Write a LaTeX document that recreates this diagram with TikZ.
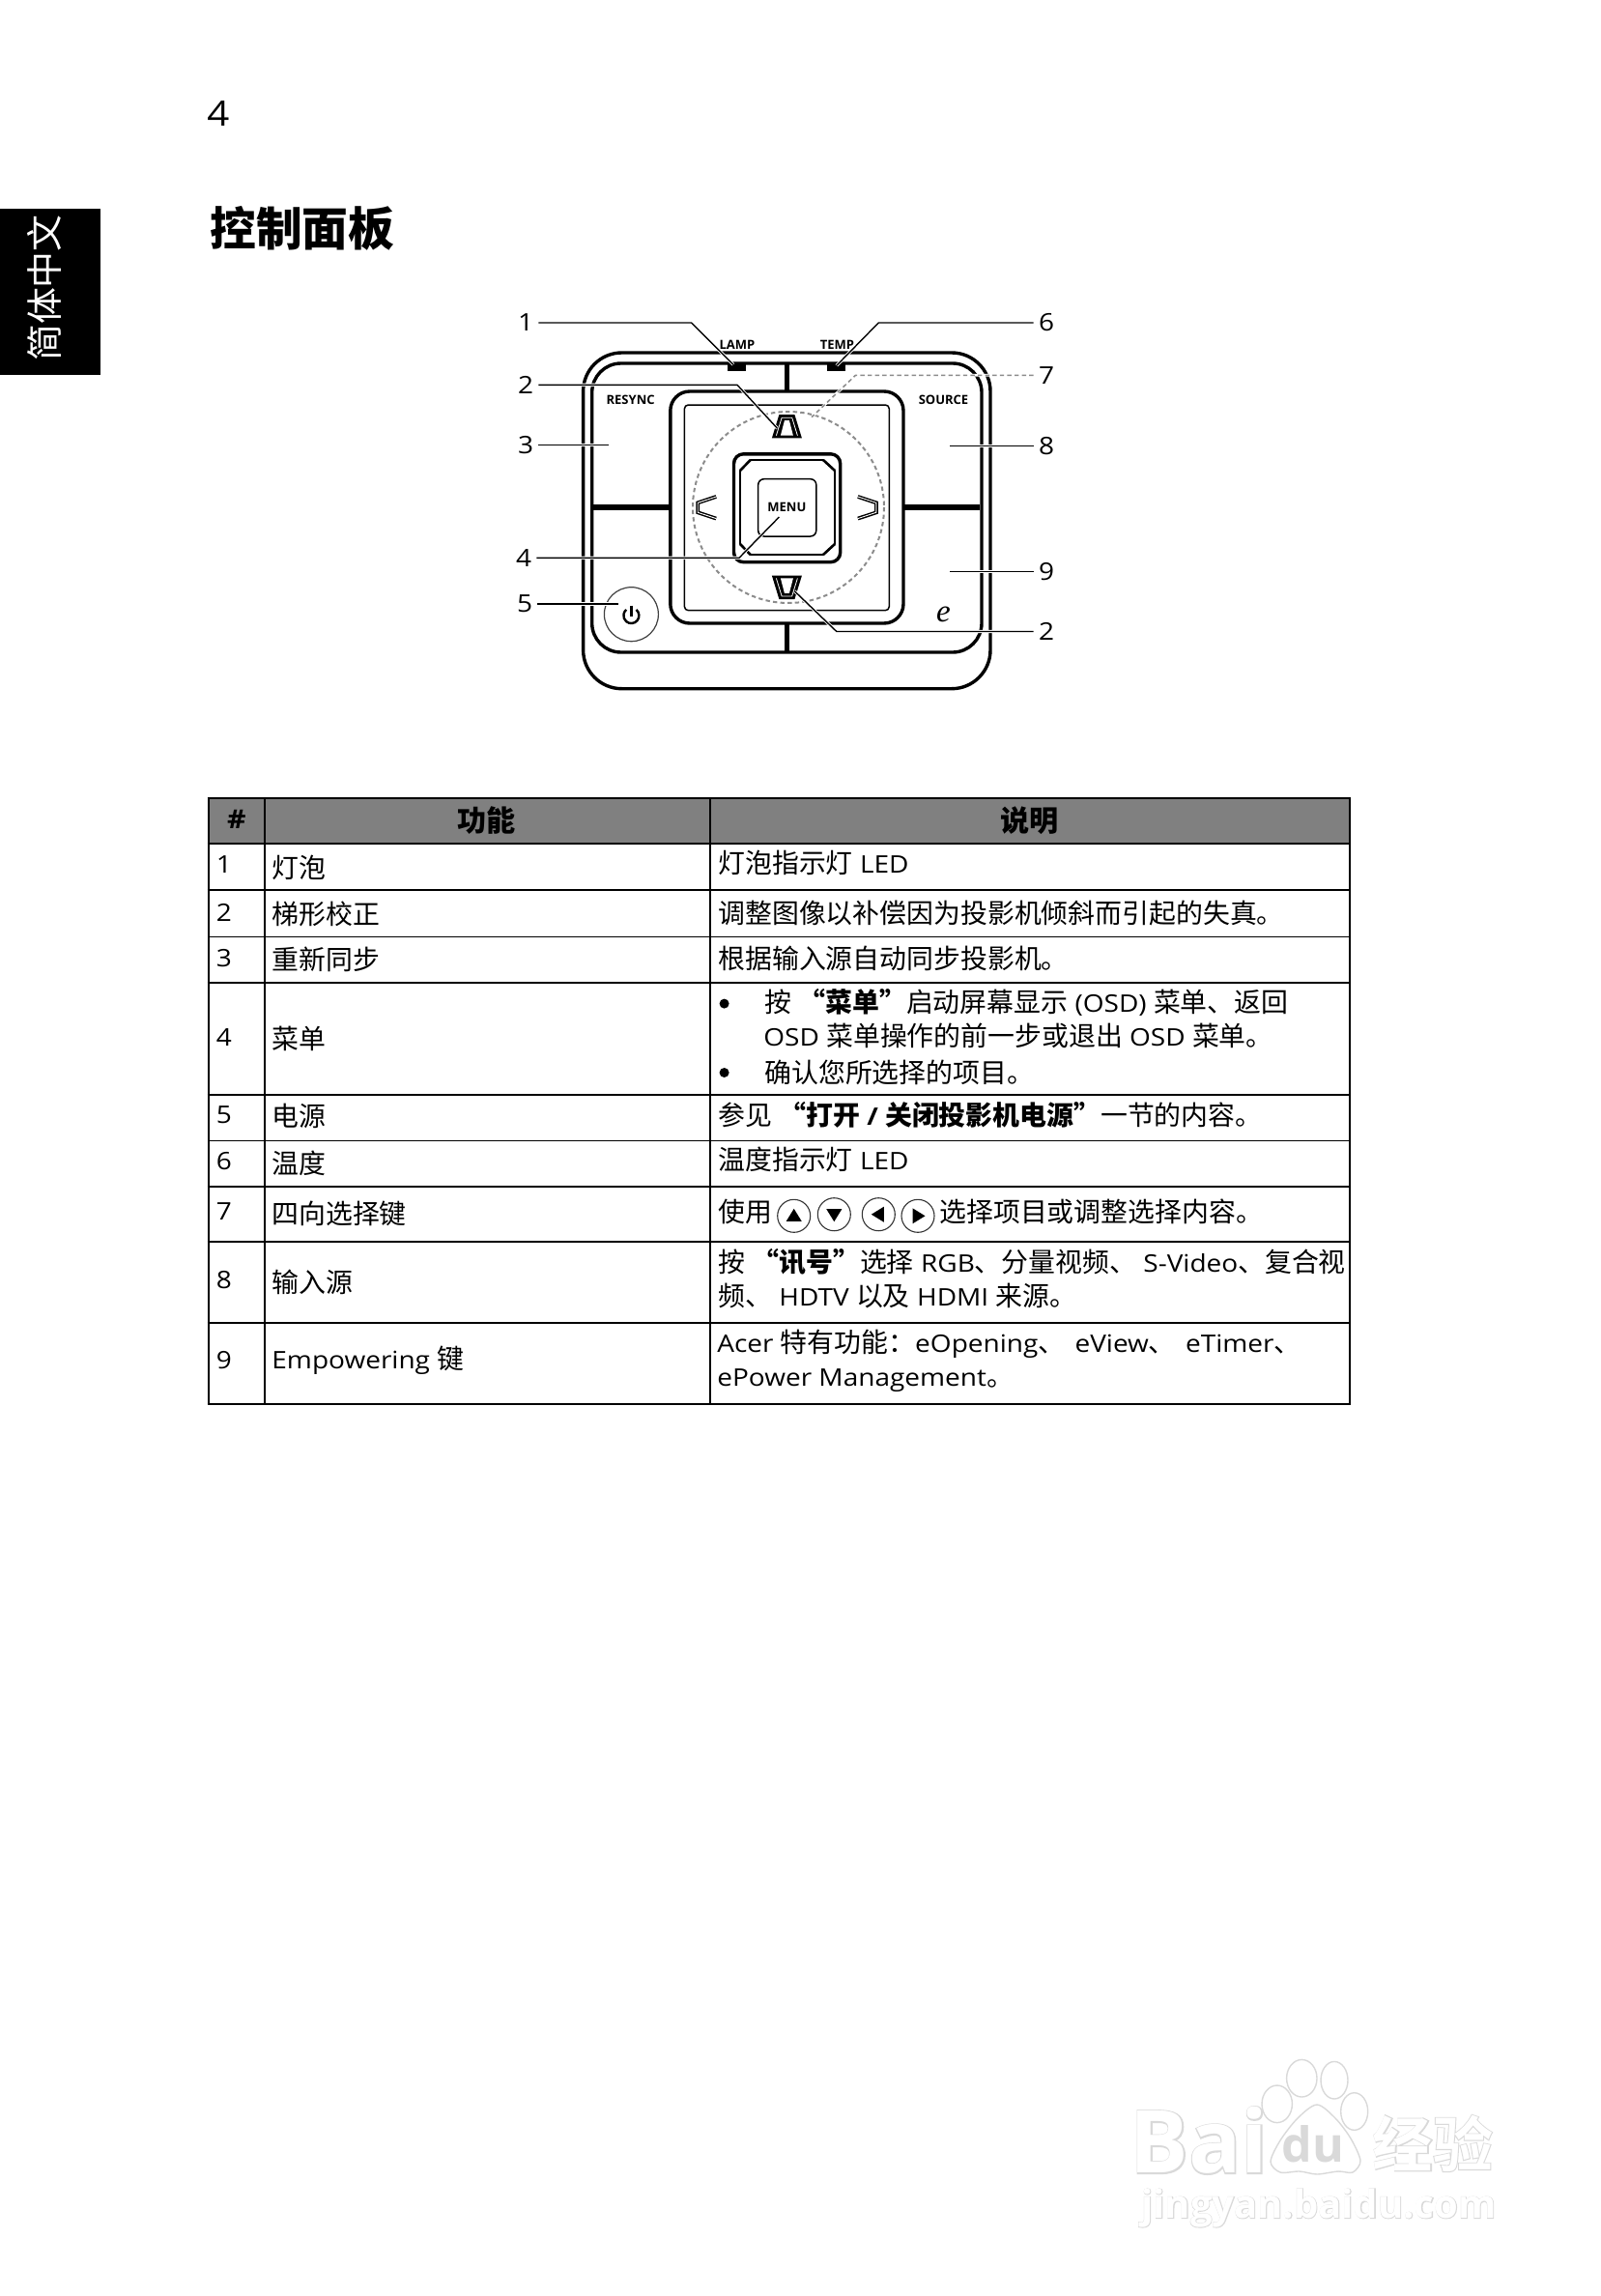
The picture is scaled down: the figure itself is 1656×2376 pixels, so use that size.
\documentclass[tikz,border=0pt]{standalone}
\usepackage{fontspec}
\setmainfont[FakeStretch=1.12]{Open Sans}
\newfontfamily\keyfont{Open Sans Bold}
\newfontfamily\cjk[Scale=1.115]{Noto Sans CJK SC}
\newfontfamily\efont{Liberation Serif}
\newfontfamily\wmfont[FakeBold=3]{Open Sans Bold}
\newfontfamily\wmplain{Open Sans Bold}
\newfontfamily\wmcjk[Scale=1.096,FakeBold=3]{Noto Sans CJK SC Bold}
\newfontfamily\wmcjkplain[Scale=1.096]{Noto Sans CJK SC Bold}
\newcommand{\zh}[1]{{\cjk #1}}
\newcommand{\zb}[1]{{\cjk\bfseries #1}}
\definecolor{headgray}{gray}{0.5}
\definecolor{dashgray}{gray}{0.55}
\definecolor{markgray}{gray}{0.85}

\begin{document}
\begin{tikzpicture}[x=0.5pt,y=-0.5pt,
		body/.style={font=\fontsize{12.5pt}{15pt}\selectfont},
		rowtext/.style={body, anchor=base west, inner sep=0pt},
		numtext/.style={body, anchor=base, inner sep=0pt},
		headtext/.style={font=\fontsize{13.5pt}{16pt}\selectfont\bfseries, inner sep=0pt},
		keytext/.style={font=\keyfont\fontsize{6.5pt}{7pt}\selectfont, inner sep=0pt},
		calloutnum/.style={body, inner sep=2.5pt},
		panelline/.style={line width=1.7pt, rounded corners=#1},
		thinline/.style={line width=0.75pt, rounded corners=#1},
		leader/.style={line width=0.7pt, preaction={draw=white, line width=1.6pt}},
		dashring/.style={draw=dashgray, line width=1pt, dash pattern=on 2.2pt off 1.6pt},
		dotmark/.style={circle, fill=black, inner sep=0pt, minimum size=5pt},
		iconring/.style={circle, draw=black!80, line width=0.55pt, inner sep=0pt, minimum size=17pt},
		markpart/.style={draw=markgray, fill=white, line width=0.7pt}]
	\useasboundingbox (0,0) rectangle (1656,2376);

	\fill[black] (0,216) rectangle (104,388);
	\node[rotate=90, text=white, inner sep=0pt, font=\fontsize{17pt}{20pt}\selectfont] (tabtext) at (46,298) {\zh{简体中文}};
	\node[anchor=base, inner sep=0pt, font=\fontsize{18pt}{20pt}\selectfont] (pagenum) at (226,131) {4};
	\node[anchor=base west, inner sep=0pt, font=\fontsize{21.4pt}{25pt}\selectfont] (title) at (217,255) {\zb{控制面板}};

	\draw[panelline=20pt] (603.6,365) rectangle (1025,712.7);
	\draw[panelline=15pt] (612.7,376) rectangle (1016,675);
	\draw[panelline=10pt] (693.8,405) rectangle (935,645);
	\draw[thinline=2pt] (708.4,419) rectangle (920.3,631.7);
	\draw[line width=2.4pt] (814.4,376) -- (814.4,405) (814.4,645) -- (814.4,675);
	\draw[line width=2.6pt] (614,525) -- (693.8,525) (935,525) -- (1014,525);
	\fill[black] (753,377.3) rectangle (772,384);
	\fill[black] (855.9,377.3) rectangle (874.8,384);

	\draw[panelline=5pt] (759.5,469.8) rectangle (869.7,581.7);
	\draw[line width=0.85pt] (776.7,476) -- (852,476) -- (864,487) -- (864,563) -- (852,574) -- (776.7,574) -- (766,563) -- (766,487) -- cycle;
	\draw[line width=1.3pt] (776.7,476) -- (766,487) (852,476) -- (864,487) (864,563) -- (852,574) (776.7,574) -- (766,563);
	\draw[thinline=3pt] (784.7,495.7) rectangle (844.8,555);

	\foreach \cx/\cy/\turn in {814.4/607.9/0, 814.4/441.2/180} {
		\fill[shift={(\cx,\cy)}, rotate=\turn] (-15.5,-12.2) -- (15.5,-12.2) -- (8,12.2) -- (-8,12.2) -- cycle;
		\fill[white, shift={(\cx,\cy)}, rotate=\turn] (-6.5,-9.5) -- (6.5,-9.5) -- (2.5,6) -- (-2.5,6) -- cycle;
		\draw[white, line width=0.4pt, shift={(\cx,\cy)}, rotate=\turn] (-11,-9.5) -- (-5.3,9) -- (5.3,9) -- (11,-9.5);
	}
	\foreach \cx/\flip in {731.7/1, 897.4/-1} {
		\draw[line width=1.9pt, xscale=\flip, shift={({\cx*\flip},525.3)}] (9.5,-11.3) -- (-9.5,-5) -- (-9.5,5) -- (9.5,11.3);
		\draw[white, line width=0.45pt, xscale=\flip, shift={({\cx*\flip},525.3)}] (9.5,-11.3) -- (-9.5,-5) -- (-9.5,5) -- (9.5,11.3);
	}

	\draw[dashring] (816,525) circle [radius=99];
	\draw[line width=0.6pt, draw=black!75] (653.4,635.7) circle [radius=28];
	\draw[line width=1.2pt] (653.4,626.7) -- (653.4,638);
	\draw[line width=1.2pt] (658.5,630.9) arc [start angle=-50, end angle=230, radius=8];

	\node[keytext] (lamp) at (763,356.7) {LAMP};
	\node[keytext] (temp) at (866.5,356.7) {TEMP};
	\node[keytext] (resync) at (652.6,414.3) {RESYNC};
	\node[keytext] (source) at (976.5,414.3) {SOURCE};
	\node[keytext] (menu) at (814.4,525.3) {MENU};
	\node[anchor=base, inner sep=0pt, font=\efont\itshape\fontsize{16.5pt}{18pt}\selectfont] (ekey) at (976.5,643) {e};

	\node[calloutnum] (num1) at (544,334) {1};
	\node[calloutnum] (num2a) at (544,398.3) {2};
	\node[calloutnum] (num3) at (544,460.7) {3};
	\node[calloutnum] (num4) at (542,577.3) {4};
	\node[calloutnum] (num5) at (543,625) {5};
	\node[calloutnum] (num6) at (1083,334) {6};
	\node[calloutnum] (num7) at (1083,388.3) {7};
	\node[calloutnum] (num8) at (1083,461.7) {8};
	\node[calloutnum] (num9) at (1083,591.7) {9};
	\node[calloutnum] (num2b) at (1083,653.5) {2};
	\coordinate (bend1) at (715.5,334);
	\coordinate (tip1) at (759,377.3);
	\coordinate (bend6) at (909.3,334);
	\coordinate (tip6) at (865.8,378.3);
	\coordinate (bend2a) at (763,398.3);
	\coordinate (tip2a) at (804.5,443.3);
	\coordinate (bend7) at (885.5,388.3);
	\coordinate (tip7) at (840,431.7);
	\coordinate (tip3) at (629.7,460.7);
	\coordinate (tip8) at (983.2,461.7);
	\coordinate (bend4) at (765,577.3);
	\coordinate (tip4) at (806.4,535);
	\coordinate (tip9) at (983.2,591.7);
	\coordinate (tip5) at (640.4,625);
	\coordinate (bend2b) at (865.8,653.5);
	\coordinate (tip2b) at (822.3,611.7);
	\draw[leader] (num1.east) -- (bend1) -- (tip1);
	\draw[leader] (num6.west) -- (bend6) -- (tip6);
	\draw[leader] (num2a.east) -- (bend2a) -- (tip2a);
	\draw[leader] (num3.east) -- (tip3);
	\draw[leader] (num8.west) -- (tip8);
	\draw[leader] (num4.east) -- (bend4) -- (tip4);
	\draw[leader] (num9.west) -- (tip9);
	\draw[leader] (num5.east) -- (tip5);
	\draw[leader] (num2b.west) -- (bend2b) -- (tip2b);
	\draw[dashring, line width=0.75pt, preaction={draw=white, solid, line width=1.4pt}] (num7.west) -- (bend7) -- (tip7);

	\fill[headgray] (215.7,825.7) rectangle (1396.7,873.3);
	\foreach \rowy in {825.7,873.3,921.3,1016.7,1132.7,1227.7,1285.3,1368.7,1452.7}
		\draw[line width=1pt] (214.7,\rowy) -- (1397.7,\rowy);
	\foreach \rowy in {969.3,1180.3}
		\draw[line width=0.65pt] (215.7,\rowy) -- (1396.7,\rowy);
	\foreach \colx in {215.7,274,735,1396.7}
		\draw[line width=1.1pt] (\colx,825.7) -- (\colx,1452.7);

	\node[headtext] (headnum) at (245,848) {\#};
	\node[headtext] (headfunc) at (503.6,849) {\zh{功能}};
	\node[headtext] (headdesc) at (1065.6,849) {\zh{说明}};

	\foreach \n/\basey in {1/903,2/953,3/1000,4/1082,5/1162,6/1210,7/1262.7,8/1333,9/1416}
		\node[numtext] (row\n) at (232,\basey) {\n};

	\node[rowtext] (func1) at (281,908.4) {\zh{灯泡}};
	\node[rowtext] (func2) at (281,956.4) {\zh{梯形校正}};
	\node[rowtext] (func3) at (281,1003.4) {\zh{重新同步}};
	\node[rowtext] (func4) at (281,1085.4) {\zh{菜单}};
	\node[rowtext] (func5) at (281,1165.4) {\zh{电源}};
	\node[rowtext] (func6) at (281,1214.4) {\zh{温度}};
	\node[rowtext] (func7) at (281,1266.4) {\zh{四向选择键}};
	\node[rowtext] (func8) at (281,1337.4) {\zh{输入源}};
	\node[rowtext] (func9) at (281,1416) {Empowering \zh{键}};

	\node[rowtext] (desc1) at (743,903.5) {\zh{灯泡指示灯} LED};
	\node[rowtext] (desc2) at (743,955.4) {\zh{调整图像以补偿因为投影机倾斜而引起的失真。}};
	\node[rowtext] (desc3) at (743,1002) {\zh{根据输入源自动同步投影机。}};
	\node[dotmark] (dota) at (749.6,1038.6) {};
	\node[rowtext] (desc4a) at (791,1047.7) {\zh{按} \zb{“菜单”}\zh{启动屏幕显示} (OSD) \zh{菜单、返回}};
	\node[rowtext] (desc4b) at (790,1082.5) {OSD \zh{菜单操作的前一步或退出} OSD \zh{菜单。}};
	\node[dotmark] (dotb) at (749.6,1110) {};
	\node[rowtext] (desc4c) at (791,1120.4) {\zh{确认您所选择的项目。}};
	\node[rowtext] (desc5) at (743,1164) {\zh{参见} \zb{“打开} \textbf{/} \zb{关闭投影机电源”}\zh{一节的内容。}};
	\node[rowtext] (desc6) at (743,1210) {\zh{温度指示灯} LED};
	\node[rowtext] (desc7a) at (743,1264) {\zh{使用}};
	\foreach \cx/\cy/\turn/\nm in {821.7/1258.3/0/up, 863.3/1256.7/180/down, 909.3/1256.7/90/left, 950/1258.3/-90/right} {
		\node[iconring] (icon\nm) at (\cx,\cy) {};
		\fill[shift={(\cx,\cy)}, rotate=\turn] (-8,5.5) -- (8,5.5) -- (0,-7.5) -- cycle;
	}
	\node[rowtext] (desc7b) at (972,1264) {\zh{选择项目或调整选择内容。}};
	\node[rowtext] (desc8a) at (743,1316.6) {\zh{按} \zb{“讯号”}\zh{选择} RGB\zh{、分量视频、} S-Video\zh{、复合视}};
	\node[rowtext] (desc8b) at (743,1351) {\zh{频、} HDTV \zh{以及} HDMI \zh{来源。}};
	\node[rowtext] (desc9a) at (742,1399.6) {Acer \zh{特有功能：}eOpening\zh{、}\hspace{1.5pt} eView\zh{、}\hspace{1.5pt} eTimer\zh{、}};
	\node[rowtext] (desc9b) at (742,1434.8) {ePower Management\zh{。}};

	\node[text=markgray, font=\wmfont\fontsize{45pt}{48pt}\selectfont, inner sep=0pt] (baiout) at (1241,2215) {Bai};
	\node[text=white, font=\wmplain\fontsize{45pt}{48pt}\selectfont, inner sep=0pt] (baiin) at (1241,2215) {Bai};
	\draw[markpart] (1321.7,2177.3) ellipse [x radius=15.7, y radius=19.3];
	\draw[markpart] (1347.3,2150.7) ellipse [x radius=15.7, y radius=19.3];
	\draw[markpart] (1381,2152.7) ellipse [x radius=14, y radius=19.3];
	\draw[markpart] (1401.7,2185) ellipse [x radius=14, y radius=19.3];
	\draw[markpart] plot[smooth cycle] coordinates {(1363,2178) (1343,2192) (1325,2215) (1315,2237) (1325,2248) (1345,2247) (1363,2250) (1385,2247) (1400,2248) (1408,2236) (1398,2213) (1382,2192)};
	\node[text=markgray, font=\wmplain\fontsize{25pt}{28pt}\selectfont, inner sep=0pt] (dumark) at (1359,2219) {du};
	\node[text=markgray, font=\wmcjk\fontsize{28.3pt}{32pt}\selectfont, inner sep=0pt] (jingout) at (1483,2218) {经验};
	\node[text=white, font=\wmcjkplain\fontsize{28.3pt}{32pt}\selectfont, inner sep=0pt] (jingin) at (1483,2218) {经验};
	\node[text=markgray, font=\wmfont\fontsize{20pt}{22pt}\selectfont, inner sep=0pt] (urlout) at (1365,2285) {jingyan.baidu.com};
	\node[text=white, font=\wmplain\fontsize{20pt}{22pt}\selectfont, inner sep=0pt] (urlin) at (1365,2285) {jingyan.baidu.com};
\end{tikzpicture}
\end{document}
